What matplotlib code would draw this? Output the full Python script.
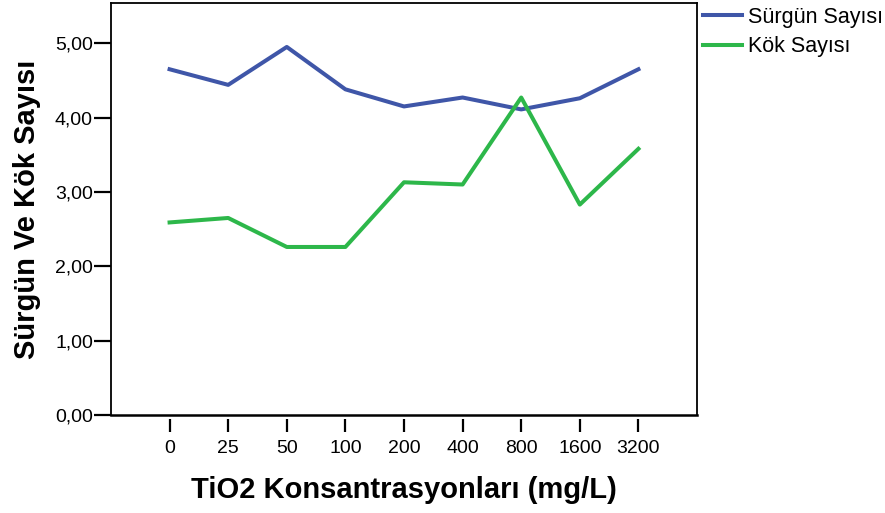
import matplotlib.pyplot as plt

konsantrasyon = ["0", "25", "50", "100", "200", "400", "800", "1600", "3200"]
surgun = [4.65, 4.44, 4.95, 4.38, 4.15, 4.27, 4.11, 4.26, 4.65]
kok = [2.59, 2.65, 2.26, 2.26, 3.13, 3.10, 4.27, 2.83, 3.58]
y_ticks = [0, 1, 2, 3, 4, 5]
y_labels = ["0,00", "1,00", "2,00", "3,00", "4,00", "5,00"]

plt.rcParams['font.family'] = ['Liberation Sans', 'DejaVu Sans']

fig = plt.figure(figsize=(8.85, 5.13), dpi=100)
ax = fig.add_axes([0.1254, 0.191, 0.6622, 0.803])

# spine position first, it resets the ticks
ax.spines["bottom"].set_position(("outward", 3))
ax.spines["bottom"].set_visible(False)
for s in ["left", "top", "right"]:
    ax.spines[s].set_linewidth(1.3)

x = list(range(len(konsantrasyon)))
ax.plot(x, surgun, color="#3f56a8", lw=2.9, label="Sürgün Sayısı")
ax.plot(x, kok, color="#2db74a", lw=2.9, label="Kök Sayısı")
ax.axhline(0, color="black", lw=1.8, clip_on=False, zorder=5)

ax.set_xlim(-1, 9)
ax.set_ylim(0, 5.54)
ax.set_xticks(x)
ax.set_xticklabels(konsantrasyon, fontsize=14)
ax.set_yticks(y_ticks)
ax.set_yticklabels(y_labels, fontsize=14)

ax.tick_params(axis="y", direction="out", length=12, width=1.6, pad=1)
ax.tick_params(axis="x", direction="out", length=9, width=1.6, pad=6)

ax.set_xlabel("TiO2 Konsantrasyonları (mg/L)", fontsize=21, fontweight="bold", labelpad=14)
ax.set_ylabel("Sürgün Ve Kök Sayısı", fontsize=21, fontweight="bold", labelpad=10)

fig.legend(loc="upper left", bbox_to_anchor=(703 / 885, 1 - 7 / 513), frameon=False,
           fontsize=15.5, handlelength=1.8, handletextpad=0.3, labelspacing=0.38,
           borderpad=0, borderaxespad=0)

fig.savefig("out.png", dpi=100)
